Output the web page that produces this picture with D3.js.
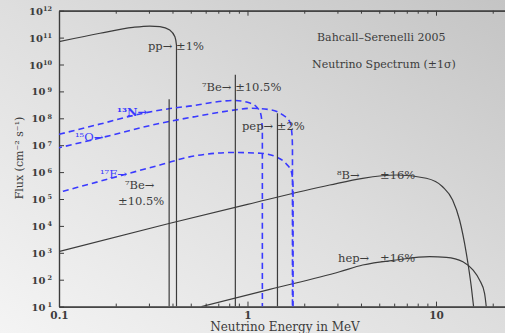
<!DOCTYPE html>
<html>
<head>
<meta charset="utf-8">
<script src="https://cdn.jsdelivr.net/npm/d3@7/dist/d3.min.js"></script>
<style>
  html, body { margin: 0; padding: 0; background: #e6e6e6; }
  svg { display: block; }
  text { font-family: "DejaVu Serif", "Liberation Serif", serif; }
</style>
</head>
<body>
<svg id="chart" width="505" height="333"></svg>
<script>
// Solar neutrino spectrum (BS05), flux in cm^-2 s^-1 (lines) or cm^-2 s^-1 MeV^-1 (continua)

// Axis ticks
const energyMajor = [0.1, 1, 10];
const energyLabels = ["0.1", "1", "10"];
const fluxExponents = [1, 2, 3, 4, 5, 6, 7, 8, 9, 10, 11, 12];

// Continuum sources: energy (MeV) and flux
const ppEnergy = [0.1, 0.165, 0.247, 0.303, 0.343, 0.387, 0.412, 0.42, 0.4201];
const ppFlux   = [7.08e10, 1.45e11, 2.40e11, 2.69e11, 2.57e11, 1.91e11, 1.07e11, 5.25e10, 1e1];

const b8Energy = [0.1, 0.388, 1.0, 2.73, 4.083, 6.16, 8.884, 10.84, 12.25, 13.34, 14.48, 15.39, 15.83];
const b8Flux   = [1.12e3, 1.25e4, 6.3e4, 3.31e5, 5.89e5, 7.8e5, 5.89e5, 2.86e5, 9.2e4, 1.66e4, 9.8e2, 5.5e1, 1e1];

const hepEnergy = [0.57, 1.313, 3.084, 4.083, 6.16, 9.25, 11.34, 13.89, 15.69, 17.02, 18.10, 18.48];
const hepFlux   = [1e1, 4.36e1, 1.98e2, 3.52e2, 5.4e2, 7.16e2, 6.81e2, 4.67e2, 2.30e2, 9.75e1, 3.12e1, 1e1];

// CNO sources
const n13Energy = [0.1, 0.165, 0.269, 0.388, 0.526, 0.671, 0.856, 1.03, 1.12, 1.176, 1.199, 1.1991];
const n13Flux   = [2.54e7, 6.1e7, 1.45e8, 2.3e8, 3.0e8, 4.0e8, 4.6e8, 3.7e8, 2.6e8, 1.45e8, 3.7e7, 1e1];

const o15Energy = [0.1, 0.165, 0.343, 0.526, 0.786, 1.05, 1.34, 1.539, 1.675, 1.723, 1.732, 1.7321];
const o15Flux   = [8.07e6, 1.85e7, 6.5e7, 1.15e8, 1.87e8, 2.36e8, 2.04e8, 1.33e8, 7.5e7, 2.4e7, 8e6, 1e1];

const f17Energy = [0.1, 0.165, 0.343, 0.519, 0.846, 1.176, 1.413, 1.596, 1.711, 1.744, 1.7441];
const f17Flux   = [1.77e5, 4.58e5, 1.84e6, 3.97e6, 5.36e6, 5.0e6, 3.73e6, 2.12e6, 1.01e6, 3e5, 1e1];

// Line sources: energy (MeV) and flux
const lineNames  = ["7Be-384", "7Be-862", "pep"];
const lineEnergy = [0.384, 0.862, 1.442];
const lineFlux   = [5.1e8, 4.2e9, 1.55e8];

const W = 505, H = 333;
const svg = d3.select("#chart");

// Background shading
const defs = svg.append("defs");
const grad = defs.append("linearGradient").attr("id", "bg")
  .attr("x1", "0").attr("y1", "1").attr("x2", "1").attr("y2", "0");
grad.append("stop").attr("offset", "0").attr("stop-color", "#f4f4f4");
grad.append("stop").attr("offset", "0.5").attr("stop-color", "#dedede");
grad.append("stop").attr("offset", "1").attr("stop-color", "#c4c4c4");
svg.append("rect").attr("width", W).attr("height", H).attr("fill", "url(#bg)");

const x = d3.scaleLog().domain([0.1, 25]).range([59, 511]);
const y = d3.scaleLog().domain([10, 1e12]).range([306.6, 10.7]);

defs.append("clipPath").attr("id", "plot")
  .append("rect")
  .attr("x", x.range()[0]).attr("y", y.range()[1])
  .attr("width", x.range()[1] - x.range()[0])
  .attr("height", y.range()[0] - y.range()[1]);

const ink = "#3c3c3c";
const blue = "#3a3aff";

// Axes
const xMinor = x.ticks().filter(v => !energyMajor.some(m => Math.abs(m - v) < 1e-9));
const yTicksAll = y.ticks();
const yMajor = fluxExponents.map(e => Math.pow(10, e));
const yMinor = yTicksAll.filter(v => !yMajor.some(m => Math.abs(m - v) / m < 1e-9));

function styleAxis(g) {
  g.selectAll("path.domain").attr("stroke", ink).attr("stroke-width", 1.2);
  g.selectAll(".tick line").attr("stroke", ink).attr("stroke-width", 1);
}

// bottom
const gBottomMinor = svg.append("g").attr("transform", `translate(0,${y.range()[0]})`)
  .call(d3.axisBottom(x).tickValues(xMinor).tickSize(-3).tickSizeOuter(0).tickFormat(""));
styleAxis(gBottomMinor);
const gBottom = svg.append("g").attr("transform", `translate(0,${y.range()[0]})`)
  .call(d3.axisBottom(x).tickValues(energyMajor).tickSize(-5).tickSizeOuter(0)
    .tickFormat((d, i) => energyLabels[i]).tickPadding(4.5));
styleAxis(gBottom);
gBottom.selectAll(".tick text").attr("fill", ink).attr("font-size", 10.5)
  .attr("font-family", "DejaVu Serif").attr("font-weight", "bold");

// top
const gTop = svg.append("g").attr("transform", `translate(0,${y.range()[1]})`);
gTop.call(d3.axisTop(x).tickValues(xMinor).tickSize(-3).tickSizeOuter(0).tickFormat(""));
styleAxis(gTop);
const gTopMajor = svg.append("g").attr("transform", `translate(0,${y.range()[1]})`)
  .call(d3.axisTop(x).tickValues(energyMajor).tickSize(-5).tickSizeOuter(0).tickFormat(""));
styleAxis(gTopMajor);

// left
const gLeftMinor = svg.append("g").attr("transform", `translate(${x.range()[0]},0)`)
  .call(d3.axisLeft(y).tickValues(yMinor).tickSize(-3).tickSizeOuter(0).tickFormat(""));
styleAxis(gLeftMinor);
const gLeft = svg.append("g").attr("transform", `translate(${x.range()[0]},0)`)
  .call(d3.axisLeft(y).tickValues(yMajor).tickSize(-5).tickSizeOuter(0).tickPadding(6).tickFormat(""));
styleAxis(gLeft);
gLeft.selectAll(".tick text").each(function(d) {
  const t = d3.select(this);
  const e = Math.round(Math.log10(d));
  t.text("").attr("fill", ink).attr("font-size", 10).attr("font-weight", "bold")
    .attr("x", -7).attr("dy", "0.35em");
  t.append("tspan").text(e < 10 ? "10\u2009" : "10");
  t.append("tspan").attr("dy", "-0.55em").attr("font-size", 6.5).text(String(e));
});

// Curves
const plot = svg.append("g").attr("clip-path", "url(#plot)");
const line = d3.line().x(d => x(d[0])).y(d => y(d[1])).curve(d3.curveMonotoneX);
const zip = (a, b) => a.map((v, i) => [v, b[i]]);

const solid = [[ppEnergy, ppFlux], [b8Energy, b8Flux], [hepEnergy, hepFlux]];
solid.forEach(([e, f]) => {
  plot.append("path").attr("d", line(zip(e, f)))
    .attr("fill", "none").attr("stroke", ink).attr("stroke-width", 1.2);
});

const dashed = [[n13Energy, n13Flux], [o15Energy, o15Flux], [f17Energy, f17Flux]];
dashed.forEach(([e, f], i) => {
  plot.append("path").attr("d", line(zip(e, f)))
    .attr("fill", "none").attr("stroke", blue).attr("stroke-width", 1.6)
    .attr("stroke-dasharray", "6,4").attr("stroke-dashoffset", i * 3);
});

plot.selectAll("line.src").data(lineEnergy).join("line").attr("class", "src")
  .attr("x1", d => x(d)).attr("x2", d => x(d))
  .attr("y1", (d, i) => y(lineFlux[i])).attr("y2", y(10))
  .attr("stroke", ink).attr("stroke-width", 1.2);

// Annotations
function label(txt, px, py, color, opts = {}) {
  return svg.append("text").attr("x", px).attr("y", py)
    .attr("fill", color).attr("font-size", opts.size || 11.5)
    .attr("font-weight", opts.weight || "normal")
    .text(txt);
}
label("pp\u2192 \u00b11%", 148, 50, ink);
label("\u2077Be\u2192 \u00b110.5%", 202, 91, ink);
label("pep\u2192 \u00b12%", 242, 130, ink);
label("Bahcall\u2013Serenelli 2005", 317, 41, ink, { size: 11 });
label("Neutrino Spectrum (\u00b11\u03c3)", 312, 68, ink, { size: 11 });
label("\u00b9\u00b3N\u2192", 117, 116, blue, { weight: "bold" });
label("\u00b9\u2075O\u2192", 75, 141, blue);
label("\u00b9\u2077F\u2192", 100, 178, blue);
label("\u2077Be\u2192", 125, 189, ink);
label("\u00b110.5%", 118, 205, ink);
label("\u2078B\u2192", 337, 179, ink);
label("\u00b116%", 380, 179, ink);
label("hep\u2192", 338, 262, ink);
label("\u00b116%", 380, 262, ink);

// Axis titles
svg.append("text").attr("transform", "translate(23,158) rotate(-90)")
  .attr("text-anchor", "middle").attr("fill", ink).attr("font-size", 11)
  .text("Flux (cm\u207b\u00b2 s\u207b\u00b9)");
svg.append("text").attr("x", 285).attr("y", 331)
  .attr("text-anchor", "middle").attr("fill", ink).attr("font-size", 12)
  .text("Neutrino Energy in MeV");
</script>
</body>
</html>
